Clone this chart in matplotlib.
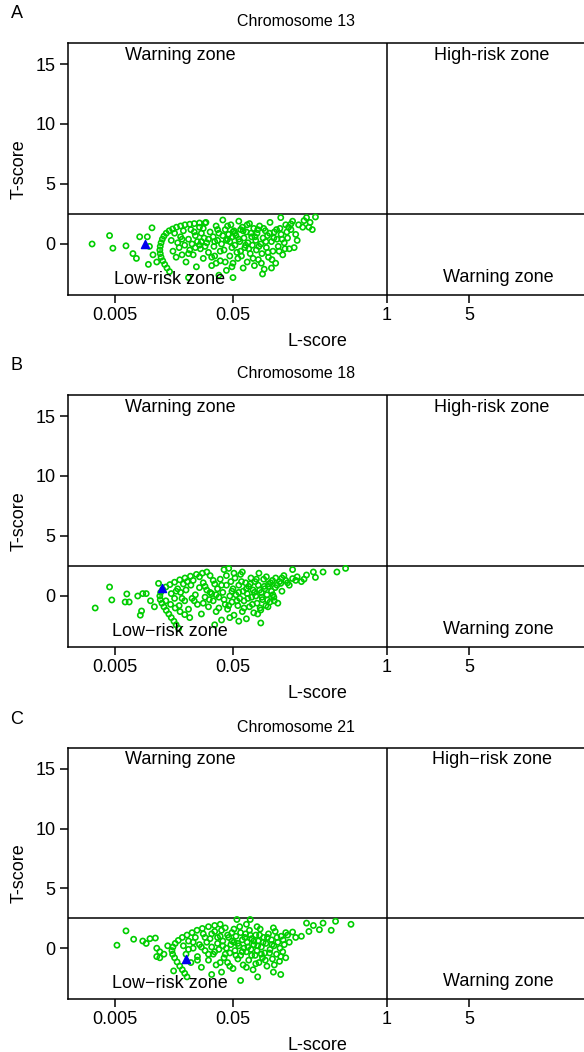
import matplotlib.pyplot as plt
import numpy as np

plt.rcParams['font.family'] = ['Liberation Sans', 'DejaVu Sans']

# panel titles and zone labels
titles = ['Chromosome 13', 'Chromosome 18', 'Chromosome 21']
letters = ['A', 'B', 'C']
low_risk_labels = ['Low-risk zone', 'Low\u2212risk zone', 'Low\u2212risk zone']
high_risk_labels = ['High-risk zone', 'High-risk zone', 'High\u2212risk zone']

x_ticks = [0.005, 0.05, 1, 5]
x_tick_labels = ['0.005', '0.05', '1', '5']
y_ticks = [0, 5, 10, 15]

# cut-offs
l_cut = 1
t_cut = 2.5

# (L-score, T-score) of the reference samples
chr13_points = [
    # left outliers
    (0.0032, 0.0), (0.0045, 0.7), (0.0048, -0.35), (0.0062, -0.15), (0.0071, -0.8),
    (0.0076, -1.2), (0.0081, 0.6), (0.0094, 0.6), (0.0096, -1.7), (0.0103, 1.35),
    (0.0113, -1.5), (0.0098, -0.2), (0.0105, -0.9),
    # hook
    (0.0145, -2.3), (0.0138, -2.0), (0.0132, -1.7), (0.0127, -1.4), (0.0123, -1.1),
    (0.0121, -0.8), (0.0120, -0.5), (0.0121, -0.2), (0.0123, 0.1), (0.0126, 0.4),
    (0.0130, 0.65), (0.0136, 0.9), (0.0144, 1.1), (0.0154, 1.25), (0.0166, 1.4),
    (0.0180, 1.5), (0.0196, 1.6), (0.0215, 1.65), (0.0235, 1.7), (0.0260, 1.75),
    (0.0290, 1.75),
    # main cloud
    (0.015, 0.3), (0.0155, -0.6), (0.016, 0.9), (0.0165, -1.1), (0.017, 0.1),
    (0.0175, -0.3), (0.018, 0.6), (0.0185, -0.9), (0.019, 1.1), (0.0195, -0.1),
    (0.020, -1.5), (0.021, 0.4), (0.0215, -0.5), (0.022, 1.2), (0.0225, 0.0),
    (0.023, -0.9), (0.024, 0.7), (0.0245, -1.9), (0.025, 0.2), (0.026, 1.4),
    (0.0265, -0.4), (0.027, 0.9), (0.028, -1.2), (0.0285, 0.5), (0.029, -0.2),
    (0.0295, 1.8), (0.030, 0.1), (0.031, -0.7), (0.032, 1.0), (0.033, -1.8),
    (0.034, 0.6), (0.0345, -0.2), (0.035, -1.0), (0.036, 1.5), (0.037, 0.3),
    (0.038, 0.9), (0.039, -1.4), (0.040, 0.0), (0.041, 2.0), (0.042, -0.5),
    (0.043, 1.2), (0.044, -2.2), (0.045, 0.4), (0.046, 0.8), (0.047, -1.0),
    (0.048, 1.6), (0.049, -0.3), (0.0495, 0.6), (0.050, -1.6), (0.051, 1.1),
    (0.052, -0.1), (0.053, 0.7), (0.055, -1.2), (0.056, 1.9), (0.057, 0.2),
    (0.058, -0.6), (0.060, 1.4), (0.061, -2.0), (0.062, 0.5), (0.063, -0.3),
    (0.065, 1.0), (0.066, -1.5), (0.067, 0.1), (0.069, 1.7), (0.070, -0.8),
    (0.072, 0.6), (0.073, -0.1), (0.075, 1.3), (0.076, -1.8), (0.078, 0.3),
    (0.079, -0.5), (0.080, 0.9), (0.082, -1.3), (0.084, 1.5), (0.086, 0.0),
    (0.088, -0.8), (0.090, 0.5), (0.092, -2.1), (0.094, 1.1), (0.096, -0.3),
    (0.098, 0.7), (0.100, -1.1), (0.103, 1.8), (0.106, 0.2), (0.109, -0.6),
    (0.112, 1.0), (0.115, -1.6), (0.118, 0.4), (0.121, -0.2), (0.125, 1.3),
    (0.128, 0.8), (0.132, -0.9), (0.136, 0.1), (0.140, 1.6), (0.145, 0.5),
    (0.150, -0.4),
    (0.0185, 0.4), (0.021, -0.8), (0.0235, 1.0), (0.026, -0.1), (0.028, 1.3),
    (0.031, 0.4), (0.033, -1.1), (0.035, 0.2), (0.037, 1.2), (0.039, -0.6),
    (0.041, 0.7), (0.043, -1.5), (0.045, 1.5), (0.047, 0.2), (0.049, -1.9),
    (0.052, 0.9), (0.054, -0.7), (0.056, 0.4), (0.059, -1.0), (0.061, 1.1),
    (0.064, -0.1), (0.066, 1.6), (0.068, -0.4), (0.071, 0.9), (0.074, -1.2),
    (0.077, 0.6), (0.081, 1.2), (0.083, -0.2), (0.087, -1.6), (0.091, 1.3),
    (0.095, 0.2), (0.099, -0.7), (0.102, 0.9), (0.107, -1.3), (0.111, 0.5),
    (0.117, 1.2), (0.123, -0.6), (0.130, 0.4), (0.138, -0.4), (0.143, 1.0),
    (0.148, 1.4), (0.044, 0.3), (0.050, 1.0), (0.058, 1.2), (0.036, -1.6),
    (0.027, 0.2), (0.024, -0.3),
    # lower edge
    (0.050, -2.8), (0.038, -2.6), (0.021, -2.8), (0.089, -2.5), (0.106, -2.0),
    # right tail
    (0.155, 1.2), (0.160, 1.9), (0.170, 0.8), (0.180, 1.6), (0.195, 1.4),
    (0.210, 2.2), (0.225, 1.8), (0.250, 2.25), (0.235, 1.2), (0.165, -0.3),
    (0.175, 0.3), (0.127, 2.2), (0.155, 1.67), (0.20, 1.95), (0.22, 1.4),
]

chr18_points = [
    # left outliers
    (0.0034, -1.0), (0.0045, 0.75), (0.0047, -0.33), (0.0063, 0.17), (0.0066, -0.5),
    (0.0061, -0.5), (0.0078, 0.0), (0.0086, 0.2), (0.0092, 0.2), (0.0082, -1.6),
    (0.0084, -1.25), (0.0117, 1.05), (0.0100, -0.4), (0.0108, -0.9),
    # hook
    (0.0173, -2.7), (0.0165, -2.4), (0.0158, -2.1), (0.0150, -1.8), (0.0143, -1.5),
    (0.0136, -1.2), (0.0130, -0.9), (0.0125, -0.6), (0.0121, -0.3), (0.0120, 0.0),
    (0.0122, 0.3), (0.0127, 0.55), (0.0135, 0.75), (0.0146, 0.95), (0.0160, 1.15),
    (0.0177, 1.35), (0.0196, 1.5), (0.0218, 1.65), (0.0245, 1.8), (0.0275, 1.9),
    (0.0300, 2.0),
    # second streak
    (0.0135, -0.4), (0.0148, -0.7), (0.0162, -1.0), (0.0178, -1.3), (0.0195, -1.55),
    (0.0215, -1.8),
    # main cloud
    (0.015, 0.2), (0.016, -0.2), (0.017, 0.6), (0.0175, -0.8), (0.018, 0.3),
    (0.019, 1.0), (0.0195, -0.4), (0.020, 0.5), (0.021, -1.1), (0.022, 0.9),
    (0.0225, -0.2), (0.023, 1.3), (0.024, 0.1), (0.025, -0.7), (0.026, 0.7),
    (0.027, -1.5), (0.028, 1.1), (0.029, -0.1), (0.030, 0.5), (0.031, -0.9),
    (0.032, 1.7), (0.033, 0.2), (0.034, -0.4), (0.035, 1.0), (0.036, -1.3),
    (0.037, 0.6), (0.038, -0.1), (0.039, 1.4), (0.040, -2.0), (0.041, 0.3),
    (0.042, 2.2), (0.043, -0.7), (0.044, 0.9), (0.045, -1.1), (0.046, 2.3),
    (0.047, 0.0), (0.048, 1.2), (0.049, -0.5), (0.050, 0.6), (0.051, -1.6),
    (0.052, 1.5), (0.053, 0.1), (0.055, -0.8), (0.056, 0.9), (0.057, -0.2),
    (0.058, 1.8), (0.060, -1.3), (0.061, 0.4), (0.062, -0.4), (0.064, 1.1),
    (0.065, -1.9), (0.066, 0.2), (0.068, 0.8), (0.069, -0.9), (0.071, 1.5),
    (0.072, -0.1), (0.074, 0.5), (0.075, -1.4), (0.077, 1.2), (0.078, 0.0),
    (0.080, -0.6), (0.082, 0.9), (0.083, 1.9), (0.085, -1.0), (0.087, 0.3),
    (0.089, -0.3), (0.091, 1.4), (0.093, 0.6), (0.095, -0.8), (0.097, 0.1),
    (0.100, 1.0), (0.103, -0.5), (0.106, 0.4), (0.108, 1.3), (0.111, -0.1),
    (0.114, 0.7),
    (0.0165, 0.4), (0.0185, -0.2), (0.0205, 1.2), (0.0235, -0.4), (0.026, 1.6),
    (0.029, 0.8), (0.0315, -0.3), (0.034, 1.3), (0.036, 0.1), (0.038, -1.0),
    (0.040, 0.9), (0.042, -0.3), (0.044, 1.7), (0.046, -0.8), (0.049, 0.4),
    (0.051, 1.9), (0.054, -0.4), (0.056, 0.3), (0.059, 1.2), (0.062, -1.0),
    (0.065, 0.6), (0.067, -0.2), (0.070, 1.0), (0.073, -0.7), (0.076, 0.3),
    (0.079, 1.4), (0.081, -1.5), (0.084, 0.5), (0.088, -0.1), (0.092, 0.8),
    (0.096, 1.6), (0.099, -0.9), (0.104, 1.1), (0.109, 0.1), (0.112, -0.4),
    (0.118, 0.9), (0.124, 1.2), (0.130, 1.5), (0.145, 1.1), (0.170, 1.3),
    (0.060, 2.0), (0.047, -1.8), (0.028, -0.6), (0.032, 0.3),
    # lower edge and tail
    (0.098, -0.33), (0.086, -1.17), (0.086, -2.25), (0.056, -2.1), (0.035, -2.4),
    (0.127, 1.05), (0.140, 1.3), (0.160, 2.2), (0.160, 1.45), (0.190, 1.2),
    (0.240, 2.0), (0.250, 1.55), (0.290, 2.0), (0.380, 2.0), (0.450, 2.3),
    (0.100, 0.8), (0.210, 1.75), (0.175, 1.6), (0.130, 0.4), (0.115, 1.5),
    (0.150, 0.9), (0.135, 1.7), (0.200, 1.4), (0.120, -0.6),
]

chr21_points = [
    # left outliers
    (0.0052, 0.25), (0.0062, 1.45), (0.0072, 0.75), (0.0086, 0.6), (0.0092, 0.4),
    (0.0099, 0.8), (0.0110, 0.85), (0.0113, 0.0), (0.0120, -0.3), (0.0113, -0.7),
    (0.0120, -0.8), (0.0157, -1.9), (0.0130, -0.5), (0.0140, 0.2),
    # hook
    (0.0204, -2.4), (0.0195, -2.1), (0.0186, -1.8), (0.0177, -1.5), (0.0168, -1.15),
    (0.0160, -0.8), (0.0154, -0.5), (0.0152, -0.2), (0.0155, 0.1), (0.0162, 0.4),
    (0.0172, 0.65), (0.0186, 0.9), (0.0204, 1.1), (0.0225, 1.3), (0.0248, 1.5),
    (0.0275, 1.65), (0.0310, 1.8), (0.0350, 1.9), (0.0390, 2.0),
    # main cloud
    (0.019, 0.2), (0.020, -0.5), (0.021, 0.6), (0.022, -1.2), (0.023, 0.0),
    (0.024, 0.9), (0.025, -0.7), (0.026, 0.3), (0.027, -1.6), (0.028, 1.2),
    (0.029, -0.2), (0.030, 0.5), (0.031, -1.0), (0.032, 0.8), (0.033, 0.1),
    (0.034, -0.5), (0.035, 1.4), (0.036, -1.4), (0.037, 0.4), (0.038, -0.1),
    (0.039, 1.0), (0.040, -2.0), (0.041, 0.6), (0.042, -0.8), (0.043, 1.7),
    (0.044, 0.0), (0.045, -1.2), (0.046, 0.9), (0.047, -0.4), (0.048, 0.3),
    (0.049, 1.3), (0.050, -1.7), (0.051, 0.5), (0.052, -0.2), (0.053, 1.0),
    (0.055, -0.9), (0.056, 0.2), (0.057, 1.8), (0.058, -0.6), (0.060, 0.7),
    (0.061, -1.4), (0.062, 0.0), (0.064, 1.2), (0.065, -0.3), (0.066, 0.5),
    (0.068, -1.0), (0.069, 1.5), (0.071, -0.1), (0.072, 0.8), (0.074, -1.8),
    (0.075, 0.3), (0.077, -0.6), (0.078, 1.1), (0.080, -0.2), (0.082, 0.6),
    (0.083, -1.2), (0.085, 1.6), (0.087, 0.1), (0.089, -0.8), (0.091, 0.9),
    (0.093, -0.4), (0.095, 0.4), (0.097, -1.5), (0.100, 1.2), (0.103, -0.1),
    (0.106, 0.7), (0.108, -0.9), (0.111, 0.2), (0.114, 1.4), (0.117, -0.5),
    (0.120, 0.5), (0.124, -1.1), (0.128, 1.0), (0.132, -0.3), (0.136, 0.3),
    (0.140, -0.8), (0.145, 1.1),
    (0.021, -0.1), (0.023, 0.5), (0.025, -1.0), (0.027, 0.1), (0.029, 0.9),
    (0.031, -0.5), (0.033, 1.2), (0.035, -0.3), (0.037, 0.9), (0.039, -1.2),
    (0.041, 0.2), (0.043, -0.5), (0.045, 1.1), (0.047, -1.5), (0.049, 0.6),
    (0.051, 1.6), (0.053, -0.6), (0.055, 0.4), (0.058, 1.3), (0.060, -0.3),
    (0.063, 0.9), (0.065, -1.6), (0.067, 0.1), (0.070, 1.1), (0.072, -0.6),
    (0.075, 0.6), (0.078, -1.3), (0.081, 0.2), (0.084, 1.1), (0.087, -0.5),
    (0.090, 0.5), (0.094, -1.0), (0.098, 0.9), (0.102, -0.4), (0.107, 0.3),
    (0.112, -1.4), (0.118, 0.9), (0.125, 0.0), (0.133, 0.7), (0.140, 1.3),
    (0.110, 1.7), (0.080, 1.8), (0.065, 2.0), (0.040, 1.5),
    # edges and tail
    (0.054, 2.4), (0.070, 2.4), (0.058, -2.7), (0.081, -2.4), (0.127, -2.2),
    (0.110, -2.0), (0.033, -2.2), (0.127, -0.7), (0.150, 0.5), (0.170, 0.9),
    (0.160, 1.35), (0.220, 1.4), (0.270, 1.55), (0.340, 1.5), (0.210, 2.1),
    (0.290, 2.1), (0.370, 2.25), (0.500, 2.0), (0.190, 1.0), (0.240, 1.9),
]

# the tested sample in each panel
sample_points = [(0.0089, 0.03), (0.0125, 0.65), (0.0201, -0.92)]

all_points = [chr13_points, chr18_points, chr21_points]

fig = plt.figure(figsize=(5.84, 10.52), dpi=100)
W, H = 584, 1052

# axes boxes in pixels: (top, bottom)
boxes = [(43, 295), (395, 647), (748, 999)]
left_px, right_px = 68, 587

for i in range(3):
    top, bottom = boxes[i]
    ax = fig.add_axes([left_px / W, 1 - bottom / H, (right_px - left_px) / W, (bottom - top) / H])
    pts = np.array(all_points[i])
    ax.scatter(pts[:, 0], pts[:, 1], s=14, facecolors='none', edgecolors='#00CD00',
               linewidths=1.2, zorder=3)
    ax.scatter([sample_points[i][0]], [sample_points[i][1]], marker='^', s=34,
               color='#0000EE', zorder=4)
    ax.axvline(l_cut, color='black', lw=1.1)
    ax.axhline(t_cut, color='black', lw=1.1)

    ax.set_xscale('log')
    ax.set_xlim(0.002, 50)
    ax.set_ylim(-4.25, 16.75)
    ax.set_xticks(x_ticks)
    ax.set_xticklabels(x_tick_labels)
    ax.minorticks_off()
    ax.set_yticks(y_ticks)
    ax.tick_params(direction='out', length=6, width=1.1, labelsize=13, pad=3)
    for sp in ax.spines.values():
        sp.set_linewidth(1.1)

    ax.set_xlabel('L-score', fontsize=13)
    ax.xaxis.set_label_coords(0.48, -0.15)

    # zone labels
    ax.text(0.018, 15.75, 'Warning zone', ha='center', va='center', fontsize=13)
    ax.text(7.8, 15.75, high_risk_labels[i], ha='center', va='center', fontsize=13)
    ax.text(0.0145, -2.95, low_risk_labels[i], ha='center', va='center', fontsize=13)
    ax.text(8.8, -2.8, 'Warning zone', ha='center', va='center', fontsize=13)

    # y label, panel letter and title
    fig.text(19 / W, 1 - (top + bottom) / 2 / H, 'T-score', rotation=90,
             ha='center', va='center', fontsize=13)
    fig.text(17 / W, 1 - (top - 29) / H, letters[i], ha='center', va='center', fontsize=13)
    fig.text(296 / W, 1 - (top - 21) / H, titles[i], ha='center', va='center', fontsize=11.5)

plt.savefig('out.png', dpi=100)
